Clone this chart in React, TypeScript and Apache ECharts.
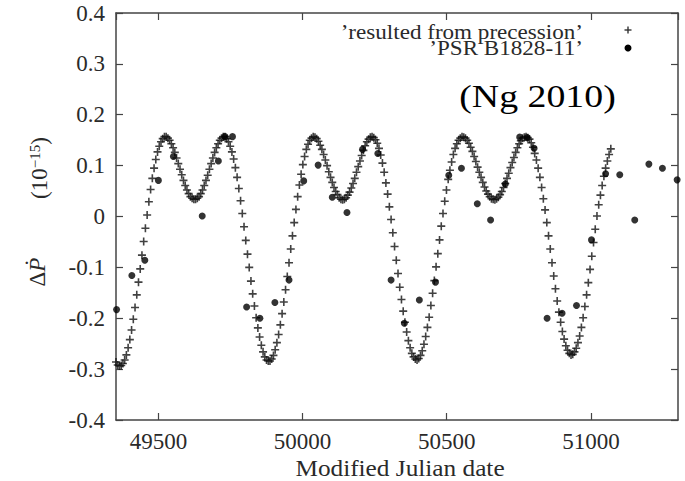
import React, { useEffect, useRef } from "react";
import * as echarts from "echarts";

// Model curve ("resulted from precession"), sampled every 6 days from MJD 49353
const curveStartMJD = 49353;
const curveStepDays = 6;
const precessionDP = [
  -0.286, -0.292, -0.294, -0.293, -0.289, -0.282, -0.272, -0.258, -0.242, -0.223,
  -0.202, -0.179, -0.154, -0.129, -0.103, -0.076, -0.049, -0.023,
  0.003, 0.029, 0.053, 0.075, 0.095, 0.112, 0.127, 0.138, 0.147, 0.153,
  0.157, 0.157, 0.154, 0.150, 0.143, 0.135, 0.126, 0.115, 0.104, 0.093,
  0.082, 0.071, 0.061, 0.052, 0.045, 0.039, 0.036, 0.034,
  0.034, 0.036, 0.039, 0.045, 0.052, 0.061, 0.071, 0.081, 0.093, 0.104,
  0.115, 0.126, 0.135, 0.143, 0.150, 0.154, 0.157, 0.157, 0.153, 0.147,
  0.138, 0.127, 0.113, 0.096, 0.077, 0.055, 0.031, 0.006,
  -0.020, -0.047, -0.074, -0.100, -0.127, -0.152, -0.176, -0.199, -0.219, -0.237,
  -0.253, -0.266, -0.276, -0.282, -0.284, -0.284, -0.280, -0.273, -0.262, -0.248,
  -0.232, -0.213, -0.191, -0.168, -0.144, -0.118, -0.091, -0.064, -0.038, -0.012,
  0.014, 0.039, 0.062, 0.083, 0.102, 0.118, 0.132, 0.142, 0.150, 0.154,
  0.157, 0.156, 0.153, 0.148, 0.140, 0.132, 0.122, 0.111, 0.100, 0.088,
  0.077, 0.067, 0.057, 0.049, 0.043, 0.037, 0.034, 0.033, 0.034, 0.037,
  0.042, 0.048, 0.056, 0.065, 0.075, 0.087, 0.098, 0.109, 0.120, 0.130,
  0.139, 0.147, 0.152, 0.156, 0.157, 0.155, 0.151, 0.144, 0.134, 0.121,
  0.105, 0.087, 0.066, 0.044, 0.019,
  -0.006, -0.032, -0.059, -0.086, -0.112, -0.139, -0.163, -0.186, -0.208, -0.227,
  -0.244, -0.258, -0.269, -0.276, -0.280, -0.282, -0.279, -0.273, -0.264, -0.251,
  -0.236, -0.218, -0.198, -0.175, -0.151, -0.126, -0.099, -0.073, -0.046, -0.019,
  0.006, 0.030, 0.052, 0.073, 0.091, 0.107, 0.122, 0.134, 0.143, 0.150,
  0.154, 0.157, 0.156, 0.154, 0.150, 0.144, 0.136, 0.128, 0.118, 0.108,
  0.097, 0.087, 0.077, 0.067, 0.058, 0.050, 0.044, 0.039, 0.035, 0.034,
  0.033, 0.035, 0.038, 0.043, 0.049, 0.057, 0.065, 0.075, 0.085, 0.096,
  0.106, 0.116, 0.126, 0.135, 0.143, 0.149, 0.154, 0.156, 0.157, 0.155,
  0.152, 0.145, 0.136, 0.124, 0.111, 0.095, 0.077, 0.057, 0.035, 0.013,
  -0.012, -0.038, -0.064, -0.091, -0.117, -0.142, -0.166, -0.188, -0.208, -0.226,
  -0.241, -0.254, -0.263, -0.269, -0.272, -0.271, -0.266, -0.259, -0.248, -0.235,
  -0.218, -0.199, -0.177, -0.154, -0.130, -0.104, -0.078, -0.051, -0.025, 0.001,
  0.023, 0.042, 0.061, 0.079, 0.095, 0.109, 0.122, 0.133,
];

// Observations 'PSR B1828-11'
const psrMJD = [
  49355, 49408, 49453, 49500, 49552, 49652, 49708, 49731, 49757, 49806,
  49852, 49904, 49953, 50004, 50054, 50103, 50154, 50208, 50261, 50307,
  50353, 50405, 50461, 50507, 50551, 50606, 50652, 50703, 50753, 50779,
  50803, 50848, 50900, 50950, 51002, 51051, 51100, 51152, 51201, 51248,
  51299,
];
const psrDP = [
  -0.183, -0.116, -0.086, 0.071, 0.118, 0.001, 0.109, 0.157, 0.157, -0.178,
  -0.200, -0.169, -0.125, 0.070, 0.101, 0.038, 0.008, 0.132, 0.124, -0.125,
  -0.210, -0.164, -0.129, 0.081, 0.095, 0.025, -0.007, 0.064, 0.156, 0.155,
  0.134, -0.200, -0.190, -0.175, -0.046, 0.084, 0.082, -0.007, 0.103, 0.095,
  0.072,
];

const legendLabels = ["\u2019resulted from precession\u2019", "\u2019PSR B1828-11\u2019"];
const xAxisTitle = "Modified Julian date";
const annotation = "(Ng 2010)";

const SERIF = "Liberation Serif, serif";
const AXIS_COLOR = "#444";
const TEXT_COLOR = "#2a2a2a";
const PLUS = "path://M4,0H6V4H10V6H6V10H4V6H0V4H4Z";

export default function App() {
  const ref = useRef<HTMLDivElement>(null);
  useEffect(() => {
    if (!ref.current) return;
    const chart = echarts.init(ref.current, null, { renderer: "svg" });
    const curve = precessionDP.map((v, i) => [curveStartMJD + i * curveStepDays, v]);
    const psr = psrMJD.map((x, i) => [x, psrDP[i]]);

    const xBase = {
      type: "value",
      min: 49353,
      max: 51302,
      minInterval: 500,
      maxInterval: 500,
      splitLine: { show: false },
      axisLine: { show: true, onZero: false, lineStyle: { color: AXIS_COLOR, width: 1.5 } },
      axisTick: { show: true, inside: true, length: 7, lineStyle: { color: AXIS_COLOR, width: 1.2 } },
    };
    const yBase = {
      type: "value",
      min: -0.4,
      max: 0.4,
      interval: 0.1,
      splitLine: { show: false },
      axisLine: { show: true, onZero: false, lineStyle: { color: AXIS_COLOR, width: 1.5 } },
      axisTick: { show: true, inside: true, length: 7, lineStyle: { color: AXIS_COLOR, width: 1.2 } },
    };

    chart.setOption({
      animation: false,
      backgroundColor: "#fff",
      grid: { left: 116, right: 7, top: 13, bottom: 61, containLabel: false },
      xAxis: [
        {
          ...xBase,
          position: "bottom",
          axisLabel: {
            show: true,
            margin: 10,
            color: TEXT_COLOR,
            fontFamily: SERIF,
            fontSize: 23,
            showMinLabel: false,
            showMaxLabel: false,
            formatter: (v: number) => String(v),
          },
        },
        { ...xBase, position: "top", axisLabel: { show: false } },
      ],
      yAxis: [
        {
          ...yBase,
          position: "left",
          axisLabel: {
            show: true,
            margin: 11,
            color: TEXT_COLOR,
            fontFamily: SERIF,
            fontSize: 23,
            padding: [4, 0, 0, 0],
            formatter: (v: number) => (Math.abs(v) < 1e-9 ? "0" : v.toFixed(1)),
          },
        },
        { ...yBase, position: "right", axisLabel: { show: false } },
      ],
      series: [
        {
          name: legendLabels[0],
          type: "scatter",
          data: curve,
          symbol: PLUS,
          symbolSize: 8,
          itemStyle: { color: "#111" },
          xAxisIndex: 0,
          yAxisIndex: 0,
          silent: true,
          z: 2,
        },
        {
          name: legendLabels[1],
          type: "scatter",
          data: psr,
          symbol: "circle",
          symbolSize: 7,
          itemStyle: { color: "#000" },
          xAxisIndex: 0,
          yAxisIndex: 0,
          silent: true,
          z: 3,
        },
      ],
      graphic: [
        {
          type: "text",
          x: 583,
          y: 32,
          scaleX: 1.05,
          style: { text: legendLabels[0], font: `22px ${SERIF}`, fill: TEXT_COLOR, textAlign: "right", textVerticalAlign: "middle" },
        },
        {
          type: "text",
          x: 583,
          y: 47.5,
          scaleX: 1.05,
          style: { text: legendLabels[1], font: `22px ${SERIF}`, fill: TEXT_COLOR, textAlign: "right", textVerticalAlign: "middle" },
        },
        { type: "rect", shape: { x: 624.5, y: 29.3, width: 7, height: 1.4 }, style: { fill: "#333" } },
        { type: "rect", shape: { x: 627.3, y: 26.5, width: 1.4, height: 7 }, style: { fill: "#333" } },
        { type: "circle", shape: { cx: 628, cy: 48, r: 3.5 }, style: { fill: "#000" } },
        {
          type: "text",
          x: 537.5,
          y: 96,
          scaleX: 1.22,
          style: { text: annotation, font: `31px ${SERIF}`, fill: "#000", textAlign: "center", textVerticalAlign: "middle" },
        },
        {
          type: "text",
          x: 400,
          y: 468,
          scaleX: 1.1,
          style: { text: xAxisTitle, font: `23px ${SERIF}`, fill: TEXT_COLOR, textAlign: "center", textVerticalAlign: "middle" },
        },
        {
          type: "text",
          x: 39,
          y: 168,
          rotation: Math.PI / 2,
          style: {
            text: "(10{s|\u221215})",
            font: `23px ${SERIF}`,
            fill: TEXT_COLOR,
            textAlign: "center",
            textVerticalAlign: "middle",
            rich: { s: { fontSize: 15, fontFamily: SERIF, verticalAlign: "top", fill: TEXT_COLOR } },
          },
        },
        {
          type: "text",
          x: 37,
          y: 272,
          rotation: Math.PI / 2,
          style: {
            text: "\u0394{p|\u1E56}",
            font: `23px ${SERIF}`,
            fill: TEXT_COLOR,
            textAlign: "center",
            textVerticalAlign: "middle",
            rich: { p: { fontSize: 23, fontFamily: SERIF, fontStyle: "italic", fill: TEXT_COLOR } },
          },
        },
      ],
    });
    return () => chart.dispose();
  }, []);
  return (
    <div
      ref={ref}
      style={{ position: "fixed", left: 0, top: 0, width: 685, height: 481, background: "#fff" }}
    />
  );
}
